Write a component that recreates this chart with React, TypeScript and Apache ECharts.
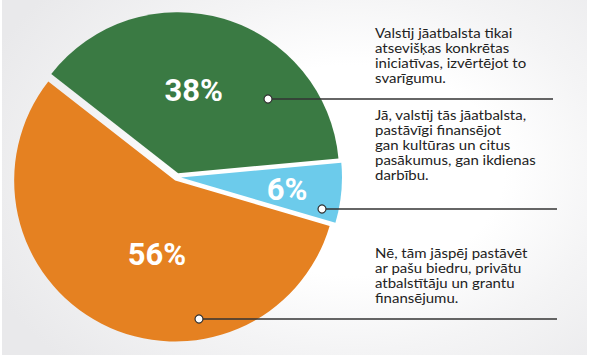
import React, { useEffect, useRef } from "react";
import * as echarts from "echarts";

const categories = [
  "Valstij jāatbalsta tikai atsevišķas konkrētas iniciatīvas, izvērtējot to svarīgumu.",
  "Jā, valstij tās jāatbalsta, pastāvīgi finansējot gan kultūras un citus pasākumus, gan ikdienas darbību.",
  "Nē, tām jāspēj pastāvēt ar pašu biedru, privātu atbalstītāju un grantu finansējumu.",
];
const values = [38, 6, 56];
const colors = ["#3a7a43", "#6ccbeb", "#e58121"];
const legendLines = [
  ["Valstij jāatbalsta tikai", "atsevišķas konkrētas", "iniciatīvas, izvērtējot to", "svarīgumu."],
  ["Jā, valstij tās jāatbalsta,", "pastāvīgi finansējot", "gan kultūras un citus", "pasākumus, gan ikdienas", "darbību."],
  ["Nē, tām jāspēj pastāvēt", "ar pašu biedru, privātu", "atbalstītāju un grantu", "finansējumu."],
];

const labelShift = [
  [-8, -3],
  [23, 4],
  [20, 0],
];
const textFirstLine = [33, 115, 253];
const lineStep = 15;
const callouts = [
  { dot: [268, 99], end: 553 },
  { dot: [322, 209], end: 557 },
  { dot: [199, 319], end: 557 },
];

export default function App() {
  const ref = useRef<HTMLDivElement>(null);
  useEffect(() => {
    if (!ref.current) return;
    const chart = echarts.init(ref.current, null, { renderer: "svg" });
    const graphics: any[] = [];
    legendLines.forEach((lines, i) => {
      lines.forEach((ln, j) => {
        graphics.push({
          type: "text",
          x: 375,
          y: textFirstLine[i] + j * lineStep,
          scaleX: 15 / 14,
          style: {
            text: ln,
            font: "14px Lato",
            fill: "#222",
            verticalAlign: "middle",
            align: "left",
          },
        });
      });
    });
    callouts.forEach((c) => {
      graphics.push({
        type: "line",
        shape: { x1: c.dot[0], y1: c.dot[1], x2: c.end, y2: c.dot[1] },
        style: { stroke: "#333", lineWidth: 1.4 },
        z: 10,
      });
      graphics.push({
        type: "circle",
        shape: { cx: c.dot[0], cy: c.dot[1], r: 4 },
        style: { fill: "#fff", stroke: "#333", lineWidth: 1.2 },
        z: 11,
      });
    });
    chart.setOption({
      animation: false,
      series: [
        {
          type: "pie",
          center: [177, 177],
          radius: [0, 161],
          startAngle: 142,
          clockwise: true,
          selectedMode: "multiple",
          selectedOffset: 4,
          emphasis: { disabled: true },
          silent: true,
          data: values.map((v, i) => ({
            value: v,
            name: categories[i],
            selected: true,
            itemStyle: { color: colors[i] },
            select: { itemStyle: { color: colors[i], borderWidth: 0 } },
          })),
          label: {
            show: true,
            position: "inside",
            formatter: "{c}%",
            color: "#fff",
            fontFamily: "Roboto",
            fontWeight: "bold",
            fontSize: 31,
          },
          labelLine: { show: false },
          labelLayout: (p: any) => ({ dx: labelShift[p.dataIndex][0], dy: labelShift[p.dataIndex][1] }),
        },
      ],
      graphic: graphics,
    });
    return () => chart.dispose();
  }, []);
  return (
    <div style={{ position: "absolute", left: 0, top: 0, width: 589, height: 358, background: "#fff" }}>
      <div
        style={{
          position: "absolute",
          left: 2,
          top: 0,
          width: 585,
          height: 355,
          background: "radial-gradient(ellipse 68% 78% at 60% 48%, #ffffff 38%, #f4f4f5 65%, #e9e9eb 100%)",
        }}
      />
      <div ref={ref} style={{ position: "absolute", left: 0, top: 0, width: 589, height: 358 }} />
    </div>
  );
}
